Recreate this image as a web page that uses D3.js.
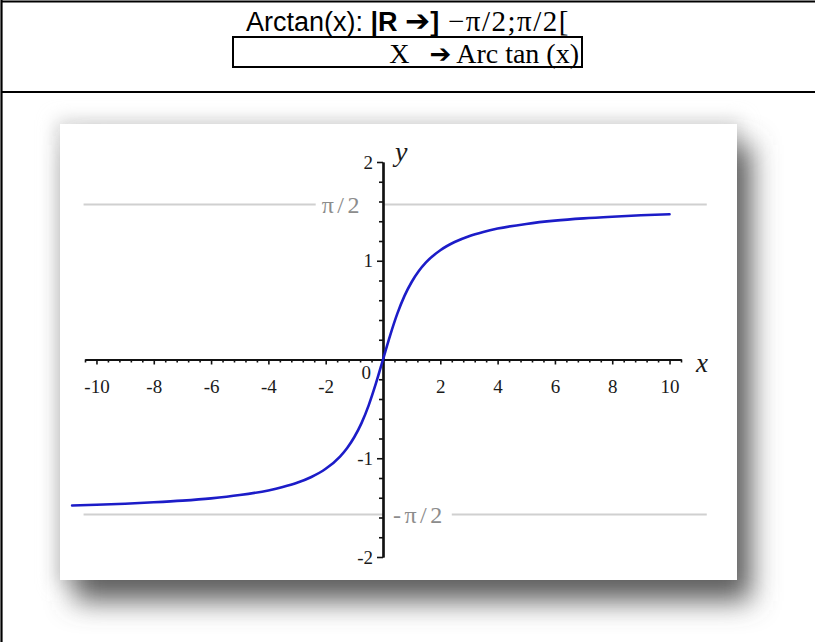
<!DOCTYPE html>
<html>
<head>
<meta charset="utf-8">
<script src="https://cdn.jsdelivr.net/npm/d3@7"></script>
<style>
  html, body { margin: 0; padding: 0; background: #ffffff; }
  svg { display: block; }
</style>
</head>
<body>
<svg id="sheet" width="815" height="642"></svg>
<script>
// ---- values of the figure ----
const xMajorTicks = [-10, -8, -6, -4, -2, 2, 4, 6, 8, 10];
const yMajorTicks = [-2, -1, 1, 2];
const asymptoteValues = [Math.PI / 2, -Math.PI / 2];
const asymptoteLabels = ["π/2", "-π/2"];
// points read along the blue curve y = arctan(x)
const curveX = [-10.85, -10, -9, -8, -7, -6, -5, -4, -3.5, -3, -2.5, -2, -1.5, -1.25, -1, -0.75, -0.5, -0.25, 0,
                0.25, 0.5, 0.75, 1, 1.25, 1.5, 2, 2.5, 3, 3.5, 4, 5, 6, 7, 8, 9, 10];
const curveY = [-1.479, -1.471, -1.460, -1.446, -1.429, -1.406, -1.373, -1.326, -1.292, -1.249, -1.190, -1.107, -0.983, -0.896, -0.785, -0.644, -0.464, -0.245, 0,
                0.245, 0.464, 0.644, 0.785, 0.896, 0.983, 1.107, 1.190, 1.249, 1.292, 1.326, 1.373, 1.406, 1.429, 1.446, 1.460, 1.471];

const svg = d3.select("#sheet");
const sans = "'Liberation Sans', Arial, sans-serif";
const serif = "'Liberation Serif', 'Times New Roman', serif";
const arrowFont = "'DejaVu Sans', sans-serif";

// ---- table frame of the page ----
const frame = svg.append("g").attr("stroke", "#000");
frame.append("line").attr("x1", 1.5).attr("x2", 815).attr("y1", 1.5).attr("y2", 1.5).attr("stroke-width", 2.2);
frame.append("line").attr("x1", 1.5).attr("x2", 1.5).attr("y1", 0).attr("y2", 642).attr("stroke-width", 2.2);
frame.append("line").attr("x1", 1.5).attr("x2", 815).attr("y1", 92).attr("y2", 92).attr("stroke-width", 2.2);

// ---- heading ----
const title = svg.append("text").attr("x", 408).attr("y", 31).attr("text-anchor", "middle")
  .attr("font-size", 27).attr("fill", "#000");
title.append("tspan").attr("font-family", sans).text("Arctan(x): ");
title.append("tspan").attr("font-family", sans).attr("font-weight", "bold").text("|R ");
title.append("tspan").attr("font-family", arrowFont).attr("font-weight", "bold").attr("font-size", 30).text("➔");
title.append("tspan").attr("font-family", sans).attr("font-weight", "bold").text("]");
title.append("tspan").attr("font-family", serif).attr("font-size", 29).attr("letter-spacing", 1.5).text(" −π/2;π/2[");

svg.append("rect").attr("x", 233).attr("y", 37).attr("width", 349).attr("height", 30)
  .attr("fill", "none").attr("stroke", "#000").attr("stroke-width", 2);
const mapLine = svg.append("text").attr("x", 579).attr("y", 63).attr("text-anchor", "end")
  .attr("font-size", 28).attr("font-family", serif).attr("fill", "#000");
mapLine.append("tspan").text("X");
mapLine.append("tspan").attr("dx", 20).attr("font-family", arrowFont).attr("font-weight", "bold").attr("font-size", 26).text("➔");
mapLine.append("tspan").attr("dx", 5).text("Arc tan (x)");

// ---- plot panel with its drop shadow ----
const panel = { x: 60, y: 124, w: 677, h: 456 };
const defs = svg.append("defs");
defs.append("filter").attr("id", "soft").attr("x", "-30%").attr("y", "-30%").attr("width", "160%").attr("height", "160%")
  .append("feGaussianBlur").attr("stdDeviation", 14);
defs.append("filter").attr("id", "glow").attr("x", "-30%").attr("y", "-30%").attr("width", "160%").attr("height", "160%")
  .append("feGaussianBlur").attr("stdDeviation", 9);

svg.append("rect").attr("x", panel.x - 4).attr("y", panel.y - 4).attr("width", panel.w + 8).attr("height", panel.h + 8)
  .attr("fill", "#d8d8d8").attr("filter", "url(#glow)");
svg.append("rect").attr("x", panel.x + 14).attr("y", panel.y + 21).attr("width", panel.w).attr("height", panel.h)
  .attr("fill", "#5e5e5e").attr("filter", "url(#soft)");
svg.append("rect").attr("x", panel.x).attr("y", panel.y).attr("width", panel.w).attr("height", panel.h)
  .attr("fill", "#ffffff");

// ---- scales ----
const x = d3.scaleLinear().domain([-10.4, 10.4]).range([85, 681]);
const y = d3.scaleLinear().domain([-2, 2]).range([557, 162]);

const plot = svg.append("g");

// asymptote guide lines
const guideExtent = [-10.45, 11.3];
asymptoteValues.forEach(v => {
  plot.append("line").attr("x1", x(guideExtent[0])).attr("x2", x(guideExtent[1]))
    .attr("y1", y(v)).attr("y2", y(v)).attr("stroke", "#d0d0d0").attr("stroke-width", 2);
});

// asymptote labels, knocked out of the guide lines
asymptoteValues.forEach((v, i) => {
  const above = v > 0;
  const g = plot.append("g");
  const bg = g.append("rect").attr("fill", "#fff");
  const t = g.append("text")
    .attr("x", above ? x(0) - 20 : x(0) + 10)
    .attr("y", y(v)).attr("dy", "0.34em")
    .attr("text-anchor", above ? "end" : "start")
    .attr("font-family", serif).attr("font-size", 24).attr("fill", "#8c8c8c")
    .attr("letter-spacing", 3.5)
    .text(asymptoteLabels[i]);
  const b = t.node().getBBox();
  if (above) bg.attr("x", b.x - 6).attr("width", x(0) - b.x + 6);
  else bg.attr("x", x(0)).attr("width", b.x + b.width - x(0) + 6);
  bg.attr("y", y(v) - 3).attr("height", 6);
});

// minor tick positions
const xMinor = d3.range(-10.4, 10.41, 0.4).filter(d => Math.abs(d - Math.round(d / 2) * 2) > 0.05);
const yMinor = d3.range(-2, 2.01, 0.2).filter(d => Math.abs(d - Math.round(d)) > 0.05);
const fmt = d => (d < 0 ? "-" + Math.abs(d) : String(d));

// x axis
const xAxisG = plot.append("g").attr("transform", `translate(0,${y(0)})`);
xAxisG.append("g").call(d3.axisBottom(x).tickValues(xMinor).tickSize(3).tickSizeOuter(0).tickFormat(""));
xAxisG.append("g").call(d3.axisBottom(x).tickValues(xMajorTicks).tickSize(5).tickSizeOuter(0).tickPadding(15).tickFormat(fmt));
xAxisG.selectAll("path.domain").attr("stroke", "#111").attr("stroke-width", 2.2);
xAxisG.selectAll(".tick line").attr("stroke", "#111").attr("stroke-width", 1.6);
xAxisG.selectAll(".tick text").attr("font-family", serif).attr("font-size", 19).attr("fill", "#1a1a1a");

// y axis
const yAxisG = plot.append("g").attr("transform", `translate(${x(0)},0)`);
yAxisG.append("g").call(d3.axisLeft(y).tickValues(yMinor).tickSize(4).tickSizeOuter(0).tickFormat(""));
yAxisG.append("g").call(d3.axisLeft(y).tickValues(yMajorTicks).tickSize(6).tickSizeOuter(0).tickPadding(4).tickFormat(fmt));
yAxisG.selectAll("path.domain").attr("stroke", "#111").attr("stroke-width", 2.2);
yAxisG.selectAll(".tick line").attr("stroke", "#111").attr("stroke-width", 1.6);
yAxisG.selectAll(".tick text").attr("font-family", serif).attr("font-size", 19).attr("fill", "#1a1a1a");

// origin label
plot.append("text").attr("x", x(0) - 12).attr("y", y(0) + 19).attr("text-anchor", "end")
  .attr("font-family", serif).attr("font-size", 19).attr("fill", "#1a1a1a").text("0");

// axis names
plot.append("text").attr("x", x(10.4) + 15).attr("y", y(0) + 12)
  .attr("font-family", serif).attr("font-style", "italic").attr("font-size", 27).attr("fill", "#1a1a1a").text("x");
plot.append("text").attr("x", x(0) + 12).attr("y", y(2) - 1)
  .attr("font-family", serif).attr("font-style", "italic").attr("font-size", 28).attr("fill", "#1a1a1a").text("y");

// the arctan curve
const pts = curveX.map((d, i) => [d, curveY[i]]);
plot.append("path").datum(pts)
  .attr("d", d3.line().x(d => x(d[0])).y(d => y(d[1])).curve(d3.curveMonotoneX))
  .attr("fill", "none").attr("stroke", "#1c1cc8").attr("stroke-width", 2.6)
  .attr("stroke-linejoin", "round").attr("stroke-linecap", "round");
</script>
</body>
</html>
